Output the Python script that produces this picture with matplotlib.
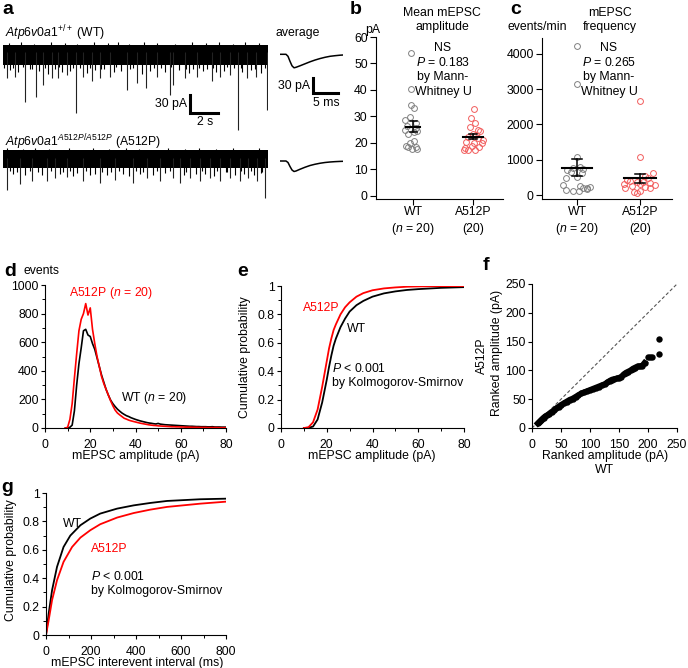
import numpy as np
import matplotlib.pyplot as plt
from matplotlib.ticker import MultipleLocator

plt.rcParams['font.family'] = ['Liberation Sans', 'DejaVu Sans']
plt.rcParams['mathtext.fontset'] = 'custom'
plt.rcParams['mathtext.rm'] = 'Liberation Sans'
plt.rcParams['mathtext.it'] = 'Liberation Sans:italic'
plt.rcParams['font.size'] = 8.8
plt.rcParams['axes.linewidth'] = 0.8

W, H = 688, 668
RED = '#ff0000'
LIGHT_RED = '#f25c5c'
GRAY = '#808080'

# ---- panel a: raw traces (time s, amplitude pA) ----
wt_event_t = [0.26, 0.86, 1.57, 2.36, 2.88, 3.48, 3.95, 4.55, 5.21, 5.74, 6.33, 6.93, 7.64,
              8.83, 9.55, 10.19, 10.98, 11.93, 12.17, 13.0, 13.83, 14.9, 15.5, 16.2, 16.8,
              17.4, 18.1, 18.85]
wt_event_a = [-44, -41, -83, -74, -55, -44, -44, -38, -102, -41, -49, -44, -41,
              -63, -52, -60, -41, -72, -55, -44, -41, -49, -41, -38, -130,
              -44, -41, -97]
wt_small_t = [0.5, 1.1, 1.9, 2.6, 3.2, 3.7, 4.2, 4.8, 5.5, 6.0, 6.6, 7.2, 7.9, 8.4, 9.1,
              9.9, 10.5, 11.3, 11.6, 12.6, 13.3, 13.6, 14.3, 14.6, 15.2, 15.8, 16.5, 17.1,
              17.7, 18.4, 0.1, 0.7, 1.4, 2.1, 3.0, 4.0, 5.0, 6.2, 7.0, 8.1, 9.3, 10.8,
              12.0, 13.1, 14.0, 15.0, 16.0, 17.0, 18.0, 18.7]
wt_small_a = [-30, -34, -28, -32, -36, -29, -33, -31, -27, -35, -30, -28, -34, -32, -29,
              -36, -31, -27, -33, -30, -35, -28, -32, -29, -34, -31, -27, -33, -30, -35,
              -26, -27, -25, -28, -26, -25, -27, -26, -28, -25, -27, -26, -25, -28, -26,
              -27, -25, -26, -28, -27]
wt_up_t = [0.4, 1.3, 2.2, 3.4, 4.4, 5.3, 6.5, 7.5, 8.2, 9.0, 10.1, 11.0, 12.3, 13.5,
           14.5, 15.4, 16.4, 17.3, 18.3]
wt_up_a = [15, 16, 14, 17, 15, 14, 16, 15, 17, 14, 16, 15, 14, 16, 15, 17, 14, 16, 15]

mut_event_t = [0.26, 1.21, 2.05, 3.12, 3.71, 4.55, 5.74, 6.93, 8.0, 9.31, 10.26, 11.21,
               12.17, 12.64, 13.36, 14.07, 14.79, 15.5, 16.21, 16.93, 17.52, 18.12, 18.71]
mut_event_a = [-53, -44, -39, -39, -34, -31, -39, -42, -37, -42, -34, -39,
               -34, -42, -34, -39, -34, -39, -34, -39, -34, -39, -67]
mut_small_t = [0.7, 1.6, 2.5, 2.8, 4.1, 5.0, 5.3, 6.2, 6.6, 7.4, 7.7, 8.6, 9.0, 9.8, 10.7,
               11.6, 12.9, 13.8, 14.4, 15.1, 15.9, 16.6, 17.2, 17.9, 18.4, 0.5, 1.0, 1.9,
               3.4, 4.3, 4.8, 5.9, 7.1, 8.3, 9.5, 10.0, 11.0, 11.9, 13.1, 14.2, 15.3, 16.0,
               17.0, 17.7, 18.5]
mut_small_a = [-26, -29, -24, -28, -27, -30, -25, -28, -26, -29, -24, -27, -30, -26, -28,
               -25, -29, -27, -26, -30, -24, -28, -27, -29, -25, -22, -23, -21, -22, -23,
               -21, -22, -23, -21, -22, -23, -21, -22, -23, -21, -22, -23, -21, -22, -23]
mut_up_t = [0.3, 1.4, 2.3, 3.3, 4.7, 5.6, 6.4, 7.6, 8.8, 9.7, 10.9, 11.8, 13.0, 14.0,
            15.2, 16.4, 17.4, 18.3]
mut_up_a = [16, 15, 17, 15, 16, 14, 16, 15, 17, 15, 14, 16, 15, 17, 15, 16, 14, 16]

# average mEPSC waveforms (ms, pA)
avg_t = [0, 1.2, 1.6, 2.0, 2.4, 2.8, 3.2, 4.0, 5.0, 6.0, 7.0, 8.0, 9.0, 10.0, 11.0, 12.0, 12.6]
avg_wt = [0, 0, -4, -14, -23, -27, -26, -23, -19, -15, -11.5, -8.5, -6, -4, -2.8, -1.8, -1.4]
avg_mut = [0, 0, -3, -11, -18, -21, -20, -16.5, -12.5, -9, -6.5, -4.5, -3, -2, -1.3, -0.8, -0.6]

# ---- panel b: mean amplitude per cell (pA) ----
amp_wt = [54, 40.5, 34.3, 33, 29.7, 28.7, 27.5, 26.5, 25.5, 25, 24.5, 24, 23.5, 20.8,
          19.9, 19, 18.6, 18.3, 17.8, 17.6]
amp_wt_dx = [-0.03, -0.03, -0.03, 0.01, -0.06, -0.13, 0.04, -0.1, 0.05, -0.13, 0.06, 0.01,
             -0.09, 0.01, -0.06, -0.12, -0.09, 0.05, -0.02, 0.07]
amp_mut = [32.8, 29.3, 27.4, 25.9, 24.9, 24.3, 23.5, 23, 22.4, 22, 21.1, 20.5, 20, 19.9,
           18.9, 18.5, 18, 17.4, 17.4, 17.2]
amp_mut_dx = [0.01, -0.03, 0.04, -0.05, 0.09, 0.12, 0.0, 0.05, -0.09, 0.08, 0.16, -0.12,
              0.15, 0.02, -0.01, 0.1, -0.13, -0.09, 0.04, -0.15]
amp_mean = [26.1, 22.4]
amp_sem = [2.1, 1.0]

# ---- panel c: frequency per cell (events/min) ----
freq_wt = [4210, 3140, 1070, 800, 760, 740, 700, 640, 610, 520, 470, 290, 260, 240, 210,
           190, 160, 145, 125, 110]
freq_wt_dx = [0, 0, 0, 0.05, -0.06, 0.1, -0.16, -0.1, 0.07, 0, -0.17, -0.23, 0.05, 0.2,
              0.15, 0.1, 0.15, -0.17, -0.06, 0.03]
freq_mut = [2670, 1070, 620, 540, 480, 430, 400, 380, 360, 340, 320, 300, 280, 260, 230,
            210, 190, 110, 80, 70]
freq_mut_dx = [0, 0, 0.21, 0.08, 0.13, -0.21, -0.16, -0.05, 0.05, 0.16, 0, -0.26, 0.24,
               -0.13, 0.08, -0.24, 0.16, 0, -0.1, -0.04]
freq_mean = [775, 470]
freq_sem = [236, 130]

# ---- panel d: amplitude histogram (events per 1 pA bin) ----
hist_x = np.arange(9, 81)
hist_mut = [0, 5, 60, 170, 350, 520, 680, 760, 800, 870, 790, 840, 690, 590, 500, 430, 360,
            310, 270, 230, 190, 155, 125, 105, 92, 80, 68, 62, 55, 50, 46, 42, 38, 34, 31,
            28, 25, 22, 20, 18, 17, 15, 14, 13, 12, 11, 10, 9, 9, 8, 8, 7, 7, 6, 6, 6, 5,
            5, 5, 4, 4, 4, 4, 3, 3, 3, 3, 3, 2, 2, 2, 2]
hist_wt = [0, 0, 5, 20, 120, 300, 450, 560, 680, 690, 650, 640, 590, 550, 490, 430, 370,
           320, 270, 230, 195, 170, 150, 132, 118, 105, 95, 86, 80, 72, 66, 60, 55, 50, 46,
           42, 38, 35, 33, 30, 28, 32, 27, 25, 23, 22, 21, 20, 19, 18, 17, 16, 15, 14, 13,
           12, 12, 11, 10, 10, 9, 9, 9, 8, 8, 9, 7, 7, 7, 6, 6, 6]

# ---- panel e: cumulative amplitude ----
cum_x = [10, 12, 14, 16, 18, 19, 20, 21, 22, 23, 24, 26, 28, 30, 33, 36, 40, 45, 50, 55,
         60, 70, 80]
cum_mut = [0, 0.005, 0.04, 0.13, 0.29, 0.38, 0.47, 0.56, 0.63, 0.69, 0.73, 0.80, 0.85,
           0.885, 0.925, 0.95, 0.97, 0.983, 0.99, 0.995, 0.997, 0.999, 1.0]
cum_wt = [0, 0.002, 0.01, 0.06, 0.18, 0.26, 0.34, 0.43, 0.51, 0.58, 0.63, 0.71, 0.77,
          0.82, 0.865, 0.895, 0.925, 0.948, 0.962, 0.972, 0.978, 0.987, 0.992]

# ---- panel f: ranked amplitudes (dense run, then isolated top points) ----
rank_wt = [10, 12, 14, 16, 18, 20, 23, 26, 30, 34, 38, 42, 46, 50, 55, 60, 65, 70, 75, 80,
           85, 90, 95, 100, 105, 110, 115, 120, 125, 130, 134, 138, 142, 146, 150, 154,
           158, 162, 166, 170, 174, 178, 182, 186, 190, 194]
rank_mut = [8, 10, 12, 14, 16, 18, 20, 22, 25, 28, 31, 34, 37, 40, 43, 46, 49, 51, 54, 57,
            60, 62, 64, 66, 68, 70, 72, 74, 76, 79, 82, 84, 85, 86, 87, 89, 93, 96, 98,
            100, 103, 105, 107, 107, 108, 113]
top_wt = [200, 203, 207, 219, 219]
top_mut = [124, 124, 124, 128.5, 154.5]

# ---- panel g: cumulative interevent interval ----
iei_x = [0, 12, 27, 49, 78, 108, 153, 197, 241, 316, 390, 464, 538, 686, 800]
iei_wt = [0, 0.152, 0.316, 0.48, 0.62, 0.70, 0.773, 0.82, 0.855, 0.89, 0.913, 0.93, 0.944,
          0.956, 0.96]
iei_x2 = [0, 12, 27, 49, 78, 116, 153, 197, 241, 316, 390, 464, 538, 686, 800]
iei_mut = [0, 0.105, 0.246, 0.386, 0.515, 0.62, 0.686, 0.738, 0.78, 0.827, 0.859, 0.883,
           0.902, 0.925, 0.939]

fig = plt.figure(figsize=(W / 100, H / 100), dpi=100)


def px_axes(x0, y0, x1, y1):
    return fig.add_axes([x0 / W, 1 - y1 / H, (x1 - x0) / W, (y1 - y0) / H])


def ftext(x, y, s, **kw):
    kw.setdefault('va', 'center')
    fig.text(x / W, 1 - y / H, s, **kw)


def style(ax, xpad=5, ypad=1.5, length=3):
    for side in ['top', 'right']:
        ax.spines[side].set_visible(False)
    ax.tick_params(which='major', direction='out', length=length, width=0.8)
    ax.tick_params(which='minor', direction='out', length=length * 0.7, width=0.7)
    ax.tick_params(axis='x', pad=xpad)
    ax.tick_params(axis='y', pad=ypad)


# ---------- a ----------
ax = px_axes(3, 38, 268, 135)
ax.set_xlim(0, 18.93)
ax.set_ylim(-138, 23.3)
ax.axis('off')
ax.fill_between([0, 18.93], -22, 12, color='k', lw=0)
ax.vlines(wt_up_t, 0, wt_up_a, color='k', lw=0.8)
ax.vlines(wt_small_t, wt_small_a, 0, color='k', lw=0.8)
ax.vlines(wt_event_t, wt_event_a, 0, color='#222222', lw=0.8)
ax.plot([13.36, 13.36, 15.36], [-71.7, -101.7, -101.7], color='k', lw=2.2,
        solid_joinstyle='miter', clip_on=False)

ax = px_axes(3, 145, 268, 200)
ax.set_xlim(0, 18.93)
ax.set_ylim(-70, 21.7)
ax.axis('off')
ax.fill_between([0, 18.93], -17, 13, color='k', lw=0)
ax.vlines(mut_up_t, 0, mut_up_a, color='k', lw=0.8)
ax.vlines(mut_small_t, mut_small_a, 0, color='k', lw=0.8)
ax.vlines(mut_event_t, mut_event_a, 0, color='#222222', lw=0.8)

ax = px_axes(280, 45, 343, 110)
ax.set_xlim(0, 12.6)
ax.set_ylim(-111.4, 18.6)
ax.axis('off')
ax.plot(avg_t, avg_wt, color='k', lw=1.1)
ax.plot([6.6, 6.6, 11.6], [-47.4, -77.4, -77.4], color='k', lw=2.2,
        solid_joinstyle='miter', clip_on=False)

ax = px_axes(280, 150, 343, 190)
ax.set_xlim(0, 12.6)
ax.set_ylim(-58, 22)
ax.axis('off')
ax.plot(avg_t, avg_mut, color='k', lw=1.1)

ftext(5, 33, r'$\mathit{Atp6v0a1}^{\mathit{+/+}}$ (WT)', ha='left')
ftext(5, 142, r'$\mathit{Atp6v0a1}^{\mathit{A512P/A512P}}$ (A512P)', ha='left')
ftext(276, 33, 'average', ha='left')
ftext(187, 104, '30 pA', ha='right')
ftext(205, 122, '2 s', ha='center')
ftext(310, 86, '30 pA', ha='right')
ftext(326, 103, '5 ms', ha='center')


# ---------- b, c ----------
def dot_panel(ax, wt, wt_dx, mut, mut_dx, means, sems, bar_hw, cap_hw, x_px):
    ax.plot(np.array(wt_dx), wt, 'o', mfc='none', mec=GRAY, ms=4.2, mew=0.7,
            clip_on=False)
    ax.plot(1 + np.array(mut_dx), mut, 'o', mfc='none', mec=LIGHT_RED, ms=4.2, mew=0.7,
            clip_on=False)
    for i in range(2):
        m, s = means[i], sems[i]
        ax.plot([i - bar_hw[i], i + bar_hw[i]], [m, m], color='k', lw=1.5)
        ax.plot([i, i], [m - s, m + s], color='k', lw=1.1)
        for yy in (m - s, m + s):
            ax.plot([i - cap_hw, i + cap_hw], [yy, yy], color='k', lw=1.1)
    ax.set_xticks([0, 1])
    ax.set_xticklabels([])
    ftext(x_px[0], 212, 'WT', ha='center')
    ftext(x_px[0], 229, r'($\mathit{n}$ = 20)', ha='center')
    ftext(x_px[1], 212, 'A512P', ha='center')
    ftext(x_px[1], 229, '(20)', ha='center')


ax = px_axes(376, 37, 503, 199)
style(ax, xpad=2.5, ypad=1.5, length=4.5)
ax.set_xlim(-0.62, 1.5)
ax.set_ylim(-1.2, 60)
ax.yaxis.set_major_locator(MultipleLocator(10))
dot_panel(ax, amp_wt, amp_wt_dx, amp_mut, amp_mut_dx, amp_mean, amp_sem,
          [0.12, 0.17], 0.06, (413, 473))
ftext(442, 13, 'Mean mEPSC', ha='center')
ftext(442, 27, 'amplitude', ha='center')
ftext(373, 30, 'pA', ha='center')
for yy, s in zip([48, 62, 77, 92], ['NS', r'$\mathit{P}$ = 0.183', 'by Mann-', 'Whitney U']):
    ftext(443, yy, s, ha='center')

ax = px_axes(542, 38, 672, 199)
style(ax, xpad=2.5, ypad=1.5, length=4.5)
ax.set_xlim(-0.56, 1.51)
ax.set_ylim(-113, 4450)
ax.yaxis.set_major_locator(MultipleLocator(1000))
dot_panel(ax, freq_wt, freq_wt_dx, freq_mut, freq_mut_dx, freq_mean, freq_sem,
          [0.24, 0.26], 0.08, (577, 640))
ftext(610, 13, 'mEPSC', ha='center')
ftext(610, 27, 'frequency', ha='center')
ftext(537, 27, 'events/min', ha='center')
for yy, s in zip([48, 62, 77, 92], ['NS', r'$\mathit{P}$ = 0.265', 'by Mann-', 'Whitney U']):
    ftext(609, yy, s, ha='center')

# ---------- d ----------
ax = px_axes(45, 285, 226, 428)
style(ax)
ax.plot(hist_x, hist_wt, color='k', lw=1.2)
ax.plot(hist_x, hist_mut, color=RED, lw=1.2)
ax.set_xlim(0, 80)
ax.set_ylim(0, 1000)
ax.xaxis.set_major_locator(MultipleLocator(20))
ax.xaxis.set_minor_locator(MultipleLocator(10))
ax.yaxis.set_major_locator(MultipleLocator(200))
ax.yaxis.set_minor_locator(MultipleLocator(100))
ftext(136, 456, 'mEPSC amplitude (pA)', ha='center')
ftext(24, 271, 'events', ha='left')
ftext(69, 293, r'A512P ($\mathit{n}$ = 20)', ha='left', color=RED)
ftext(121, 398, r'WT ($\mathit{n}$ = 20)', ha='left')

# ---------- e ----------
ax = px_axes(281, 286, 464, 428)
style(ax)
ax.plot(cum_x, cum_wt, color='k', lw=1.3)
ax.plot(cum_x, cum_mut, color=RED, lw=1.3)
ax.set_xlim(0, 80)
ax.set_ylim(0, 1)
ax.xaxis.set_major_locator(MultipleLocator(20))
ax.xaxis.set_minor_locator(MultipleLocator(10))
ax.set_yticks([0, 0.2, 0.4, 0.6, 0.8, 1.0])
ax.set_yticklabels(['0', '0.2', '0.4', '0.6', '0.8', '1'])
ax.yaxis.set_minor_locator(MultipleLocator(0.1))
ftext(372, 456, 'mEPSC amplitude (pA)', ha='center')
ftext(245, 357, 'Cumulative probability', ha='center', rotation=90)
ftext(303, 308, 'A512P', ha='left', color=RED)
ftext(347, 329, 'WT', ha='left')
ftext(332, 369, r'$\mathit{P}$ < 0.001', ha='left')
ftext(332, 383, 'by Kolmogorov-Smirnov', ha='left')

# ---------- f ----------
ax = px_axes(532, 284, 677, 428)
style(ax)
ax.plot([0, 250], [0, 250], color='#555555', lw=0.8, dashes=(3, 2))
ax.plot(rank_wt, rank_mut, '-o', color='k', ms=4.6, mew=0, lw=4.2)
ax.plot(top_wt, top_mut, 'o', color='k', ms=4.6, mew=0)
ax.set_xlim(0, 250)
ax.set_ylim(0, 250)
ax.xaxis.set_major_locator(MultipleLocator(50))
ax.yaxis.set_major_locator(MultipleLocator(50))
ftext(605, 456, 'Ranked amplitude (pA)', ha='center')
ftext(604, 470, 'WT', ha='center')
ftext(497, 353, 'Ranked amplitude (pA)', ha='center', rotation=90)
ftext(482, 356, 'A512P', ha='center', rotation=90)

# ---------- g ----------
ax = px_axes(46, 493, 226, 635)
style(ax)
ax.plot(iei_x, iei_wt, color='k', lw=1.3)
ax.plot(iei_x2, iei_mut, color=RED, lw=1.3)
ax.set_xlim(0, 800)
ax.set_ylim(0, 1)
ax.xaxis.set_major_locator(MultipleLocator(200))
ax.xaxis.set_minor_locator(MultipleLocator(100))
ax.set_yticks([0, 0.2, 0.4, 0.6, 0.8, 1.0])
ax.set_yticklabels(['0', '0.2', '0.4', '0.6', '0.8', '1'])
ax.yaxis.set_minor_locator(MultipleLocator(0.1))
ftext(137, 663, 'mEPSC interevent interval (ms)', ha='center')
ftext(11, 560, 'Cumulative probability', ha='center', rotation=90)
ftext(63, 524, 'WT', ha='left')
ftext(91, 549, 'A512P', ha='left', color=RED)
ftext(91, 577, r'$\mathit{P}$ < 0.001', ha='left')
ftext(91, 591, 'by Kolmogorov-Smirnov', ha='left')

# panel letters
for (x, y, s) in [(2, 9, 'a'), (350, 9, 'b'), (510, 9, 'c'), (4, 271, 'd'),
                  (237, 271, 'e'), (483, 265, 'f'), (1, 487, 'g')]:
    ftext(x, y, s, ha='left', fontsize=14, fontweight='bold')

fig.savefig('out.png', dpi=100)
